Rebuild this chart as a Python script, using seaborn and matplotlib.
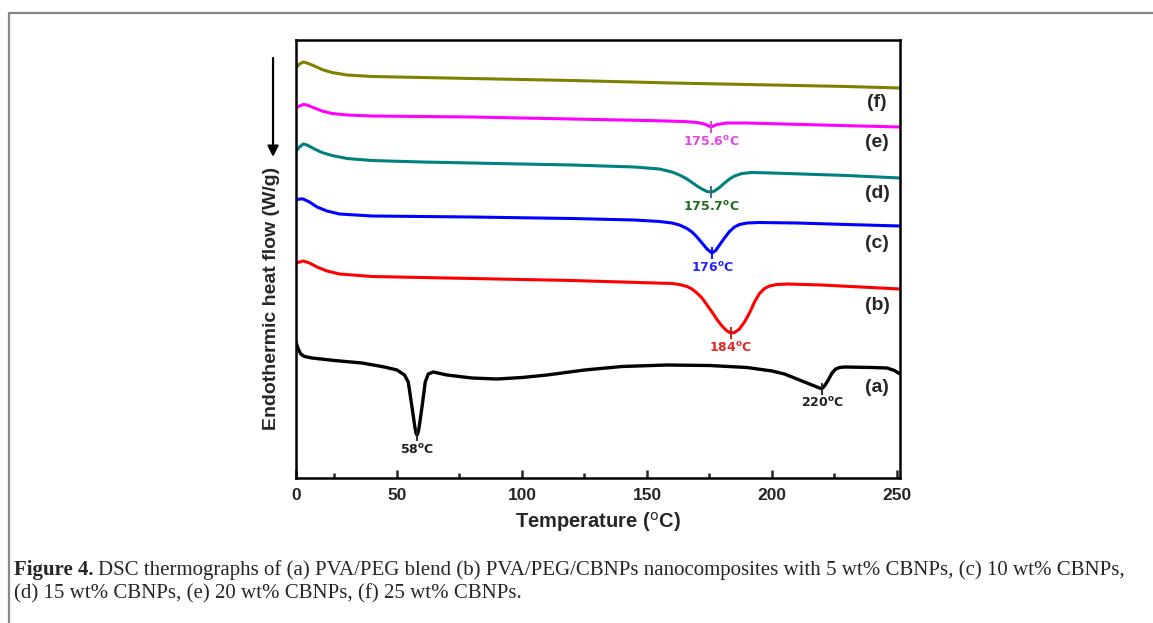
import numpy as np
import matplotlib
matplotlib.use('Agg')
import matplotlib.pyplot as plt
import seaborn as sns
from matplotlib.lines import Line2D
from matplotlib.ticker import FixedLocator

sns.set_style('ticks')
plt.rcParams['font.family'] = ['Liberation Sans', 'DejaVu Sans']

# DSC curves, heat flow in arbitrary (offset) units
temp_a = [9.6, 10.5, 11.5, 13, 16, 25, 36, 45, 50, 53, 54.5, 56, 57.2, 57.6, 58, 58.4, 58.8, 60,
          61.3, 62.5, 64.5, 70, 80, 90, 100, 110, 125, 140, 158, 175, 190, 200, 205, 210, 214,
          217, 219, 220, 221, 222.5, 224, 225.5, 227, 229, 240, 246, 249, 251.2]
flow_a = [136, 129, 124, 121.5, 120, 117.5, 115, 111, 108, 103, 96, 71, 50, 45, 43, 45, 50, 71,
          96, 104, 106, 103, 100, 99, 100.5, 103, 108, 111.5, 113, 112.5, 110.5, 107, 104, 99, 95,
          92, 90, 89.5, 92, 98, 105, 109, 110.5, 111, 110.5, 110, 107.5, 104]

temp_b = [9.6, 11, 12.5, 15, 18, 22, 27, 40, 80, 120, 140, 160, 163, 166, 168, 170, 172, 174,
          176, 178, 180, 182, 183.5, 185, 187, 189, 191, 193, 195, 197, 199, 202, 206, 220, 251.2]
flow_b = [215, 216, 217, 215, 211, 207, 204, 201.5, 199.5, 197.5, 196, 194.5, 193.5, 191.5, 189,
          185, 180, 173, 166, 158.5, 152, 147, 145, 145.5, 149, 156, 165, 176, 184.5, 189.5, 192,
          193.5, 194, 193, 189]

temp_c = [9.6, 11, 12.5, 15, 18, 22, 27, 40, 80, 120, 145, 155, 160, 163, 166, 168, 170, 172,
          174, 176, 177.5, 179, 181, 183, 185, 187, 190, 195, 210, 230, 251.2]
flow_c = [278, 279, 279, 276, 271, 267, 264, 262, 261, 259.5, 258, 256.5, 255, 253, 249.5, 246,
          241, 235, 229, 225, 227.5, 233, 240, 246.5, 251, 253.5, 255, 255.5, 255, 253.5, 252]

temp_d = [9.6, 11, 12.5, 14, 17, 20, 24, 30, 40, 60, 80, 120, 145, 155, 160, 163, 166, 168, 170,
          172, 174, 175.7, 177, 179, 181, 183, 185, 188, 192, 200, 230, 251.2]
flow_d = [327, 331, 334, 333, 329, 325.5, 322.5, 319.5, 317.5, 316, 315, 313, 311, 309, 306, 303,
          299, 295.5, 292, 289, 286.5, 286, 287, 290.5, 295, 299, 302, 304.5, 305.5, 305,
          302.5, 300]

temp_e = [9.6, 11, 12.5, 14, 17, 20, 24, 30, 40, 80, 120, 150, 165, 170, 173, 175.6, 178, 182,
          190, 220, 251.2]
flow_e = [370, 372, 373.5, 373, 370, 367, 364.5, 363, 362, 361, 359, 357.5, 356.5, 355.5, 354,
          351, 353.5, 355, 355, 353, 351]

temp_f = [9.6, 11, 12.5, 14, 17, 20, 24, 30, 40, 60, 80, 120, 160, 200, 230, 251.2]
flow_f = [410, 414, 416, 415, 412, 408.5, 405.5, 403, 401.5, 400.5, 399.5, 397.5, 395, 393,
          391.5, 390]

curve_tags = ['(a)', '(b)', '(c)', '(d)', '(e)', '(f)']
curve_colors = ['black', '#ff0000', '#0000ff', '#008080', '#ff00ff', '#808000']
tag_flow = [91, 173, 235, 285, 336, 376]

# labelled peaks: (curve index, temperature, label, text colour, tick colour)
peak_curve = [0, 0, 1, 2, 3, 4]
peak_temp = [58, 220, 183.5, 176, 175.7, 175.6]
peak_label = ['58', '220', '184', '176', '175.7', '175.6']
peak_text_color = ['#202020', '#202020', '#e02828', '#2424ff', '#1e6b1e', '#e645e6']
peak_tick_color = ['#202020', '#202020', '#c01818', '#0000ff', '#3a5f70', '#d040d0']

major_ticks = [9.6, 50, 100, 150, 200, 250]
major_labels = ['0', '50', '100', '150', '200', '250']
minor_ticks = [25, 75, 125, 175, 225]

temps = [temp_a, temp_b, temp_c, temp_d, temp_e, temp_f]
flows = [flow_a, flow_b, flow_c, flow_d, flow_e, flow_f]

fig = plt.figure(figsize=(11.53, 6.23), dpi=100)
ax = fig.add_axes([0.25672, 0.23274, 0.52385, 0.70305])

for t, f, c in zip(temps, flows, curve_colors):
    sns.lineplot(x=t, y=f, color=c, lw=2.4 if c == 'black' else 2.2, ax=ax)

for tag, fl in zip(curve_tags, tag_flow):
    ax.text(242, fl, tag, ha='center', va='center', fontsize=14, weight='bold')

for ci, pt, lab, tc, kc in zip(peak_curve, peak_temp, peak_label, peak_text_color, peak_tick_color):
    t = np.array(temps[ci])
    f = np.array(flows[ci])
    yv = f[np.argmin(np.abs(t - pt))]
    ax.plot([pt], [yv], marker='|', ms=9, mew=1.3, color=kc)
    ax.annotate(lab + r'$^{\mathbf{o}}$C', (pt, yv), xytext=(0, -10.5), textcoords='offset points',
                ha='center', va='center', fontsize=9, weight='bold', color=tc,
                family='DejaVu Sans')

ax.set_xlim(9.6, 251.2)
ax.set_ylim(0, 438)
ax.set_xticks(major_ticks)
ax.set_xticklabels(major_labels, fontsize=12.5, weight='bold')
ax.xaxis.set_minor_locator(FixedLocator(minor_ticks))
ax.tick_params(axis='x', which='major', direction='in', length=6, width=1.8, pad=7)
ax.tick_params(axis='x', which='minor', direction='in', length=3.5, width=1.8)
ax.set_yticks([])
for s in ax.spines.values():
    s.set_linewidth(1.8)
    s.set_color('black')

ax.set_xlabel('Temperature ($^{\\rm o}$C)', fontsize=14.5, weight='bold', labelpad=5)
ax.set_ylabel('Endothermic heat flow (W/g)', fontsize=14, weight='bold', va='center')
ax.yaxis.set_label_coords(-0.041, 0.411)

ax.annotate('', xy=(-0.038, 0.733), xytext=(-0.038, 0.959), xycoords='axes fraction',
            arrowprops=dict(arrowstyle='-|>', color='black', lw=1.6, mutation_scale=16,
                            shrinkA=0, shrinkB=0), annotation_clip=False)

# outer frame (left and top only)
fig.add_artist(Line2D([9 / 1153, 9 / 1153], [0, 1 - 13 / 623], color='#888888', lw=1.6))
fig.add_artist(Line2D([9 / 1153, 1], [1 - 13 / 623, 1 - 13 / 623], color='#888888', lw=1.6))

# caption
r = fig.canvas.get_renderer()
x0 = 14 / 1153
t1 = fig.text(x0, 1 - 575 / 623, 'Figure 4.', family='Liberation Serif', weight='bold',
              fontsize=15, va='baseline')
w = t1.get_window_extent(r).width / 1153
fig.text(x0 + w + 4 / 1153, 1 - 575 / 623,
         'DSC thermographs of (a) PVA/PEG blend (b) PVA/PEG/CBNPs nanocomposites with 5 wt% CBNPs, '
         '(c) 10 wt% CBNPs,', family='Liberation Serif', fontsize=15, va='baseline')
fig.text(x0, 1 - 598 / 623, '(d) 15 wt% CBNPs, (e) 20 wt% CBNPs, (f) 25 wt% CBNPs.',
         family='Liberation Serif', fontsize=15, va='baseline')

fig.savefig('out.png', dpi=100, facecolor='white')
